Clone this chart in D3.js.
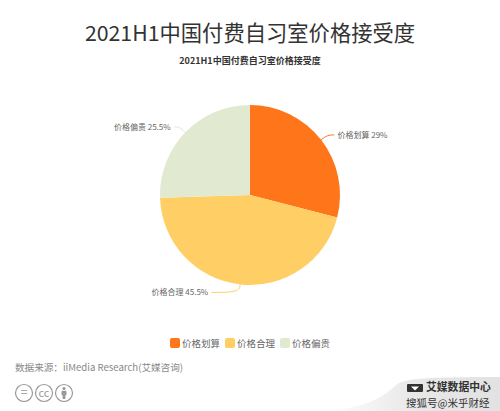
<!DOCTYPE html>
<html>
<head>
<meta charset="utf-8">
<script src="https://cdn.jsdelivr.net/npm/d3@7/dist/d3.min.js"></script>
<style>
  body { margin: 0; background: #fff; }
  text { font-family: "Noto Sans CJK SC", "Open Sans", sans-serif; }
</style>
</head>
<body>
<svg id="chart" width="500" height="411"></svg>
<script>
// values
const categories = ['价格划算', '价格合理', '价格偏贵'];
const values = [29, 45.5, 25.5];
const colors = ['#FF7519', '#FFCF66', '#E1E9D1'];
const title = '2021H1中国付费自习室价格接受度';
const source = '数据来源\uFF1AiiMedia Research(艾媒咨询)';
const badges = ['=', 'cc', ''];

const svg = d3.select('#chart');
const cx = 250, cy = 195, radius = 90;
// horizontal run of each leader line
const leaderRun = [7, 28, 6];

svg.append('text').attr('x', 250).attr('y', 41)
  .attr('text-anchor', 'middle').attr('font-size', 21.3).attr('fill', '#333')
  .text(title);
svg.append('text').attr('x', 250).attr('y', 63.5)
  .attr('text-anchor', 'middle').attr('font-size', 9).attr('font-weight', 'bold').attr('fill', '#333')
  .text(title);

const pie = d3.pie().sort(null).value(d => d);
const arc = d3.arc().innerRadius(0).outerRadius(radius);
const slices = pie(values);

const g = svg.append('g').attr('transform', `translate(${cx},${cy})`);
g.selectAll('path.slice')
  .data(slices)
  .enter()
  .append('path')
  .attr('class', 'slice')
  .attr('d', arc)
  .attr('fill', (d, i) => colors[i]);

// leader lines and labels
const outer = d3.arc().innerRadius(radius + 8).outerRadius(radius + 8);
slices.forEach((d, i) => {
  const mid = (d.startAngle + d.endAngle) / 2;
  const right = mid < Math.PI;
  const p0 = [Math.sin(mid) * radius, -Math.cos(mid) * radius];
  const p1 = outer.centroid(d);
  const p2 = [p1[0] + (right ? leaderRun[i] : -leaderRun[i]), p1[1]];
  g.append('path')
    .attr('d', d3.line().curve(d3.curveBasis)([p0, p1, p2]))
    .attr('fill', 'none')
    .attr('stroke', colors[i])
    .attr('stroke-width', 1);
  g.append('text')
    .attr('x', p2[0] + (right ? 3 : -3))
    .attr('y', p2[1] + 3)
    .attr('text-anchor', right ? 'start' : 'end')
    .attr('font-size', 8)
    .attr('fill', '#666')
    .text(categories[i] + ' ' + values[i] + '%');
});

// legend
const legendX = d3.scaleOrdinal().domain(categories).range([170, 225, 280]);
const legend = svg.append('g').selectAll('g')
  .data(categories)
  .enter()
  .append('g')
  .attr('transform', d => `translate(${legendX(d)},338)`);
legend.append('rect')
  .attr('width', 10).attr('height', 10).attr('rx', 2)
  .attr('fill', (d, i) => colors[i]);
legend.append('text')
  .attr('x', 12).attr('y', 9)
  .attr('font-size', 9.5).attr('fill', '#666')
  .text(d => d);

// source line
svg.append('text').attr('x', 15).attr('y', 371)
  .attr('font-size', 9.6).attr('fill', '#888')
  .text(source);

// licence badges
const badgeG = svg.append('g').selectAll('g')
  .data(badges)
  .enter()
  .append('g')
  .attr('transform', (d, i) => `translate(${24 + i * 20},393)`);
badgeG.append('circle')
  .attr('r', 8.5).attr('fill', '#fff').attr('stroke', '#999').attr('stroke-width', 1.2);
badgeG.append('text')
  .attr('text-anchor', 'middle').attr('y', 4)
  .attr('font-size', d => d === '=' ? 13 : 11).attr('fill', '#999')
  .text(d => d);
// person in the last badge
const person = svg.append('g').attr('transform', 'translate(64,393)').attr('fill', '#999');
person.append('circle').attr('cy', -4.5).attr('r', 1.6);
person.append('rect').attr('x', -2.5).attr('y', -2.2).attr('width', 5).attr('height', 4.5).attr('rx', 1);
person.append('rect').attr('x', -1.4).attr('y', 2).attr('width', 2.8).attr('height', 4);

// corner watermark
const grad = svg.append('defs').append('linearGradient').attr('id', 'band');
grad.append('stop').attr('offset', '0').attr('stop-color', '#fff');
grad.append('stop').attr('offset', '0.5').attr('stop-color', '#e8e8e8');
grad.append('stop').attr('offset', '1').attr('stop-color', '#e2e2e2');
svg.append('path')
  .attr('d', 'M325,411 C365,408 382,398 395,386 C403,379 415,377 500,377 L500,411 Z')
  .attr('fill', 'url(#band)');
svg.append('text').attr('x', 426).attr('y', 391.2)
  .attr('font-size', 10.8).attr('font-weight', 'bold').attr('fill', '#333')
  .text('艾媒数据中心');
svg.append('text').attr('x', 406).attr('y', 406.6)
  .attr('font-size', 10.5).attr('fill', '#333')
  .text('搜狐号@米乎财经');
svg.append('rect')
  .attr('x', 407).attr('y', 384).attr('width', 16).attr('height', 8).attr('rx', 1)
  .attr('fill', '#333');
svg.append('path')
  .attr('d', 'M411,386.5 L419,386.5 L415,390.5 Z')
  .attr('fill', '#fff');
</script>
</body>
</html>
